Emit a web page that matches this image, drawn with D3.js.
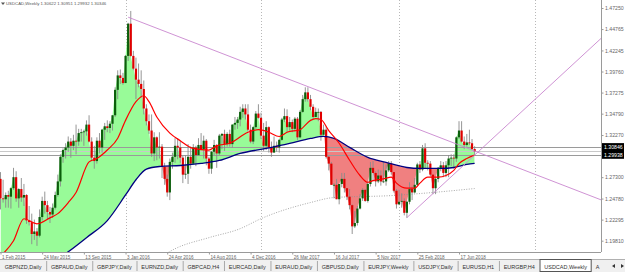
<!DOCTYPE html>
<html lang="en">
<head>
<meta charset="UTF-8">
<title>USDCAD,Weekly</title>
<script src="https://cdnjs.cloudflare.com/ajax/libs/d3/7.8.5/d3.min.js"></script>
<style>
  html, body { margin: 0; padding: 0; background: #fff; }
  svg { display: block; font-family: "Liberation Sans", Arial, sans-serif; }
</style>
</head>
<body>
<svg id="chart" width="625" height="272"></svg>
<script>
// weekly bars, first bar opens the week of 1 Feb 2015
const firstWeek = "2015-02-01";
const symbol = "USDCAD,Weekly";
const lastQuote = [1.30622, 1.30951, 1.29932, 1.30346];

// [open, high, low, close]
const bars = [
  [1.2710,1.2790,1.2350,1.2480],[1.2480,1.2700,1.2430,1.2470],[1.2470,1.2550,1.2370,1.2520],[1.2520,1.2570,1.2370,1.2500],
  [1.2500,1.2610,1.2360,1.2600],[1.2600,1.2840,1.2580,1.2730],[1.2730,1.2800,1.2440,1.2480],[1.2480,1.2600,1.2370,1.2590],
  [1.2590,1.2720,1.2440,1.2490],[1.2490,1.2650,1.2390,1.2520],[1.2520,1.2530,1.2180,1.2220],[1.2220,1.2390,1.2160,1.2200],
  [1.2200,1.2300,1.1940,1.2060],[1.2060,1.2230,1.1990,1.2090],[1.2090,1.2130,1.1920,1.2040],[1.2040,1.2350,1.2020,1.2260],
  [1.2260,1.2500,1.2220,1.2450],[1.2450,1.2560,1.2300,1.2400],[1.2400,1.2450,1.2230,1.2320],[1.2320,1.2380,1.2190,1.2290],
  [1.2290,1.2420,1.2250,1.2370],[1.2370,1.2560,1.2350,1.2520],[1.2520,1.2760,1.2500,1.2680],[1.2680,1.3000,1.2620,1.2970],
  [1.2970,1.3070,1.2900,1.3050],[1.3050,1.3130,1.2950,1.3080],[1.3080,1.3210,1.3030,1.3150],[1.3150,1.3190,1.2960,1.3100],
  [1.3100,1.3230,1.3050,1.3160],[1.3160,1.3350,1.3000,1.3150],[1.3150,1.3300,1.3100,1.3250],[1.3250,1.3300,1.3150,1.3260],
  [1.3260,1.3290,1.3100,1.3270],[1.3270,1.3400,1.3220,1.3350],[1.3350,1.3460,1.3140,1.3150],[1.3150,1.3200,1.2920,1.2960],
  [1.2960,1.3100,1.2830,1.2920],[1.2920,1.3200,1.2890,1.3160],[1.3160,1.3250,1.3010,1.3080],[1.3080,1.3300,1.3020,1.3290],
  [1.3290,1.3370,1.3170,1.3330],[1.3330,1.3400,1.3260,1.3310],[1.3310,1.3390,1.3250,1.3360],[1.3360,1.3460,1.3280,1.3460],
  [1.3460,1.3790,1.3440,1.3760],[1.3760,1.3990,1.3650,1.3930],[1.3930,1.4000,1.3830,1.3900],[1.3900,1.3960,1.3820,1.3840],
  [1.3840,1.4170,1.3840,1.4160],[1.4160,1.4550,1.4100,1.4540],[1.4540,1.4690,1.4150,1.4160],[1.4160,1.4220,1.3990,1.4010],
  [1.4010,1.4140,1.3650,1.3880],[1.3880,1.4070,1.3790,1.3830],[1.3830,1.3990,1.3670,1.3770],[1.3770,1.3870,1.3470,1.3540],
  [1.3540,1.3590,1.3340,1.3390],[1.3390,1.3470,1.3240,1.3280],[1.3280,1.3470,1.2970,1.3010],[1.3010,1.3260,1.2920,1.3200],
  [1.3200,1.3210,1.2930,1.3080],[1.3080,1.3260,1.2950,1.3090],[1.3090,1.3120,1.2720,1.2850],[1.2850,1.2900,1.2640,1.2710],
  [1.2710,1.2760,1.2500,1.2550],[1.2550,1.2950,1.2460,1.2910],[1.2910,1.3020,1.2830,1.2970],[1.2970,1.3190,1.2900,1.3100],
  [1.3100,1.3190,1.2940,1.3080],[1.3080,1.3160,1.2900,1.2960],[1.2960,1.2980,1.2660,1.2760],[1.2760,1.2990,1.2710,1.2770],
  [1.2770,1.3120,1.2650,1.2970],[1.2970,1.3090,1.2830,1.2890],[1.2890,1.3120,1.2880,1.3080],[1.3080,1.3100,1.2860,1.2990],
  [1.2990,1.3190,1.2990,1.3110],[1.3110,1.3250,1.3050,1.3060],[1.3060,1.3220,1.2950,1.3160],[1.3160,1.3180,1.2870,1.2950],
  [1.2950,1.2970,1.2770,1.2830],[1.2830,1.3040,1.2770,1.3030],[1.3030,1.3170,1.2990,1.3110],[1.3110,1.3120,1.2840,1.3010],
  [1.3010,1.3240,1.2990,1.3220],[1.3220,1.3250,1.3060,1.3240],[1.3240,1.3290,1.3040,1.3120],[1.3120,1.3260,1.3090,1.3240],
  [1.3240,1.3290,1.3090,1.3120],[1.3120,1.3350,1.3080,1.3350],[1.3350,1.3440,1.3290,1.3370],[1.3370,1.3440,1.3300,1.3410],
  [1.3410,1.3560,1.3330,1.3500],[1.3500,1.3590,1.3430,1.3540],[1.3540,1.3590,1.3410,1.3470],[1.3470,1.3590,1.3270,1.3290],
  [1.3290,1.3350,1.3130,1.3150],[1.3150,1.3330,1.3120,1.3320],[1.3320,1.3510,1.3300,1.3480],[1.3480,1.3590,1.3420,1.3430],
  [1.3430,1.3490,1.3180,1.3220],[1.3220,1.3370,1.3040,1.3100],[1.3100,1.3390,1.3050,1.3320],[1.3320,1.3330,1.3020,1.3080],
  [1.3080,1.3150,1.2970,1.3020],[1.3020,1.3210,1.3020,1.3100],[1.3100,1.3150,1.3030,1.3080],[1.3080,1.3180,1.3020,1.3170],
  [1.3170,1.3430,1.3160,1.3410],[1.3410,1.3540,1.3380,1.3450],[1.3450,1.3530,1.3260,1.3320],[1.3320,1.3440,1.3280,1.3380],
  [1.3380,1.3410,1.3260,1.3300],[1.3300,1.3440,1.3270,1.3420],[1.3420,1.3440,1.3170,1.3200],[1.3200,1.3520,1.3190,1.3500],
  [1.3500,1.3700,1.3490,1.3650],[1.3650,1.3790,1.3620,1.3730],[1.3730,1.3790,1.3620,1.3650],[1.3650,1.3700,1.3520,1.3560],
  [1.3560,1.3590,1.3410,1.3440],[1.3440,1.3550,1.3440,1.3500],[1.3500,1.3540,1.3390,1.3500],[1.3500,1.3510,1.3160,1.3230],
  [1.3230,1.3350,1.3230,1.3290],[1.3290,1.3330,1.2950,1.2970],[1.2970,1.2980,1.2810,1.2890],[1.2890,1.2910,1.2640,1.2640],
  [1.2640,1.2660,1.2480,1.2640],[1.2640,1.2710,1.2470,1.2470],[1.2470,1.2650,1.2410,1.2650],[1.2650,1.2780,1.2610,1.2710],
  [1.2710,1.2780,1.2550,1.2600],[1.2600,1.2600,1.2460,1.2500],[1.2500,1.2590,1.2350,1.2400],[1.2400,1.2410,1.2060,1.2150],
  [1.2150,1.2330,1.2130,1.2190],[1.2190,1.2390,1.2160,1.2360],[1.2360,1.2530,1.2350,1.2480],[1.2480,1.2600,1.2450,1.2580],
  [1.2580,1.2590,1.2440,1.2450],[1.2450,1.2680,1.2430,1.2650],[1.2650,1.2910,1.2620,1.2840],[1.2840,1.2920,1.2680,1.2780],
  [1.2780,1.2800,1.2620,1.2680],[1.2680,1.2820,1.2660,1.2750],[1.2750,1.2810,1.2630,1.2680],[1.2680,1.2910,1.2660,1.2680],
  [1.2680,1.2880,1.2630,1.2810],[1.2810,1.2920,1.2790,1.2890],[1.2890,1.2920,1.2760,1.2790],[1.2790,1.2790,1.2550,1.2570],
  [1.2570,1.2590,1.2360,1.2410],[1.2410,1.2580,1.2400,1.2440],[1.2440,1.2540,1.2370,1.2450],[1.2450,1.2480,1.2280,1.2310],
  [1.2310,1.2450,1.2250,1.2440],[1.2440,1.2670,1.2410,1.2590],[1.2590,1.2620,1.2460,1.2550],[1.2550,1.2720,1.2540,1.2640],
  [1.2640,1.2900,1.2620,1.2880],[1.2880,1.2920,1.2780,1.2820],[1.2820,1.3110,1.2800,1.3070],[1.3070,1.3130,1.2830,1.2900],
  [1.2900,1.2930,1.2810,1.2890],[1.2890,1.2920,1.2740,1.2760],[1.2760,1.2760,1.2530,1.2600],[1.2600,1.2730,1.2530,1.2710],
  [1.2710,1.2850,1.2670,1.2840],[1.2840,1.2920,1.2800,1.2870],[1.2870,1.2910,1.2730,1.2780],[1.2780,1.2920,1.2730,1.2870],
  [1.2870,1.2990,1.2730,1.2950],[1.2950,1.3000,1.2860,1.2960],[1.2960,1.3000,1.2830,1.2950],[1.2950,1.3210,1.2910,1.3200],
  [1.3200,1.3390,1.3180,1.3280],[1.3280,1.3390,1.3140,1.3150],[1.3150,1.3210,1.3060,1.3110],[1.3110,1.3240,1.3090,1.3140],
  [1.3140,1.3290,1.3110,1.3130],[1.3130,1.3180,1.3050,1.3060],[1.30622,1.30951,1.29932,1.30346]
];

// moving averages: [bar index, price]
const fastMA = [
  [0,1.180],[5,1.198],[9,1.224],[14,1.218],[19,1.225],[22,1.230],[26,1.243],[29,1.255],[34,1.291],[37,1.295],
  [41,1.305],[45,1.319],[48,1.340],[52,1.362],[55,1.369],[57,1.362],[60,1.344],[65,1.325],[69,1.316],[74,1.307],
  [80,1.305],[83,1.310],[88,1.313],[95,1.326],[99,1.329],[103,1.326],[107,1.321],[110,1.326],[115,1.329],[119,1.340],
  [121,1.342],[123,1.341],[126,1.328],[130,1.313],[134,1.293],[138,1.275],[141,1.267],[143,1.269],[147,1.271],[150,1.273],
  [152,1.266],[156,1.260],[159,1.260],[161,1.266],[164,1.273],[168,1.273],[171,1.275],[174,1.281],[176,1.289],[179,1.295],
  [182,1.299]
];
const slowMA = [
  [0,1.128],[8,1.146],[16,1.163],[22,1.176],[26,1.185],[33,1.2017],[41,1.2218],[48,1.2520],[52,1.2700],[56,1.2825],
  [61,1.2856],[69,1.2868],[77,1.2892],[84,1.2927],[92,1.3010],[102,1.3069],[111,1.3128],[119,1.3187],[124,1.3211],[128,1.3187],
  [134,1.3081],[141,1.2963],[148,1.2904],[156,1.2844],[161,1.2833],[169,1.2833],[174,1.2844],[179,1.2880],[182,1.2892]
];
const longMA = [
  [62,1.180],[67,1.1886],[80,1.2017],[92,1.2123],[100,1.2241],[119,1.2431],[128,1.2490],[150,1.2513],[161,1.2537],[182,1.2596]
];

const trendLines = [
  [["2016-01-10", 1.4617], ["2019-07-07", 1.2457]],
  [["2018-01-28", 1.2253], ["2019-07-07", 1.4380]]
];

const priceTicks = [1.47250, 1.44765, 1.42245, 1.39760, 1.37275, 1.34790, 1.32270, 1.27300, 1.24780, 1.22295, 1.19810];
const levelLines = [1.30846, 1.29938];
const bidLine = 1.30346;
const dateTicks = ["2015-02-01","2015-05-24","2015-09-13","2016-01-03","2016-04-24","2016-08-14",
                   "2016-12-04","2017-03-26","2017-07-16","2017-11-05","2018-02-25","2018-06-17"];
const separators = ["2016-01-03","2017-01-01","2018-01-07","2019-01-06"];
const tabs = ["GBPNZD,Daily","GBPAUD,Daily","GBPJPY,Daily","EURNZD,Daily","GBPCAD,H4","EURCAD,Daily","EURAUD,Daily",
              "GBPUSD,Daily","EURJPY,Weekly","USDJPY,Daily","EURUSD,H1","EURGBP,H4","USDCAD,Weekly"];

const width = 625, height = 272;
const plot = { right: 601, bottom: 252 };

const parse = d3.utcParse("%Y-%m-%d");
const start = parse(firstWeek);
const weekDate = w => d3.utcDay.offset(start, w * 7);

const x = d3.scaleUtc()
  .domain([parse("2015-02-01"), parse("2018-06-17")])
  .range([0.5, 459]);
const y = d3.scaleLinear()
  .domain([1.19810, 1.47250])
  .range([240.7, 8]);

const svg = d3.select("#chart");
const defs = svg.append("defs");
defs.append("clipPath").attr("id", "plotClip")
  .append("rect").attr("x", 0).attr("y", 0).attr("width", plot.right).attr("height", plot.bottom);

const barX = (d, i) => x(weekDate(i));
const maX = d => x(weekDate(d[0]));

// clip regions on either side of the slow average
const slowArea = edge => d3.area().x(maX).y0(edge).y1(d => y(d[1])).curve(d3.curveMonotoneX);
defs.append("clipPath").attr("id", "aboveSlow").append("path").attr("d", slowArea(-20)(slowMA));
defs.append("clipPath").attr("id", "belowSlow").append("path").attr("d", slowArea(300)(slowMA));

const plotG = svg.append("g").attr("clip-path", "url(#plotClip)");

// yearly period separators
plotG.selectAll(".sep").data(separators).join("line")
  .attr("x1", d => Math.round(x(parse(d))) + 0.5).attr("x2", d => Math.round(x(parse(d))) + 0.5)
  .attr("y1", 0).attr("y2", plot.bottom)
  .attr("stroke", "#b8b8b8").attr("stroke-dasharray", "1,2");

// fill between close and slow average
const closeArea = edge => d3.area().x(barX).y0(edge).y1(d => y(d[3]));
plotG.append("g").attr("clip-path", "url(#aboveSlow)")
  .append("path").attr("d", closeArea(300)(bars)).attr("fill", "#98fb98");
plotG.append("g").attr("clip-path", "url(#belowSlow)")
  .append("path").attr("d", closeArea(-20)(bars)).attr("fill", "#f08080");

// horizontal price levels
plotG.selectAll(".lvl").data(levelLines).join("line")
  .attr("x1", 0).attr("x2", plot.right)
  .attr("y1", d => Math.round(y(d)) + 0.5).attr("y2", d => Math.round(y(d)) + 0.5)
  .attr("stroke", "#9a9a9a");
plotG.append("line")
  .attr("x1", 0).attr("x2", plot.right)
  .attr("y1", Math.round(y(bidLine)) + 0.5).attr("y2", Math.round(y(bidLine)) + 0.5)
  .attr("stroke", "#c8c8c8");

// long average, dotted
const maLine = d3.line().x(maX).y(d => y(d[1])).curve(d3.curveMonotoneX);
plotG.append("path").attr("d", maLine(longMA))
  .attr("fill", "none").attr("stroke", "#909090").attr("stroke-width", 0.8).attr("stroke-dasharray", "1,1.5");

// candles
const candle = plotG.append("g").selectAll("g").data(bars).join("g")
  .attr("transform", (d, i) => `translate(${barX(d, i)},0)`);
candle.append("line")
  .attr("x1", 0).attr("x2", 0)
  .attr("y1", d => y(d[1])).attr("y2", d => y(d[2]))
  .attr("stroke", "#8a8a8a").attr("stroke-width", 0.9);
candle.append("rect")
  .attr("x", -1.1).attr("width", 2.2)
  .attr("y", d => y(Math.max(d[0], d[3])))
  .attr("height", d => Math.max(0.8, Math.abs(y(d[0]) - y(d[3]))))
  .attr("fill", d => d[3] >= d[0] ? "#0b5e0b" : "#e00000");

// averages
plotG.append("path").attr("d", maLine(slowMA))
  .attr("fill", "none").attr("stroke", "#000080").attr("stroke-width", 1.3);
plotG.append("path").attr("d", maLine(fastMA))
  .attr("fill", "none").attr("stroke", "#ff0000").attr("stroke-width", 1.2);

// trend lines
plotG.selectAll(".trend").data(trendLines).join("line")
  .attr("x1", d => x(parse(d[0][0]))).attr("y1", d => y(d[0][1]))
  .attr("x2", d => x(parse(d[1][0]))).attr("y2", d => y(d[1][1]))
  .attr("stroke", "#c987cf").attr("stroke-width", 0.9);

// frame
svg.append("line").attr("x1", plot.right + 0.5).attr("x2", plot.right + 0.5)
  .attr("y1", 0).attr("y2", plot.bottom).attr("stroke", "#9a9a9a");
svg.append("line").attr("x1", 0).attr("x2", plot.right)
  .attr("y1", plot.bottom + 0.5).attr("y2", plot.bottom + 0.5).attr("stroke", "#9a9a9a");

// price axis
const yAxis = d3.axisRight(y).tickValues(priceTicks).tickFormat(d3.format(".5f")).tickSize(2).tickPadding(1.5);
const yg = svg.append("g").attr("transform", `translate(${plot.right + 0.5},0)`).call(yAxis);
yg.select(".domain").remove();
yg.selectAll("line").attr("stroke", "#9a9a9a");
yg.selectAll("text").attr("font-size", 5.2).attr("fill", "#666").attr("font-family", "Liberation Sans, Arial, sans-serif");

// price labels on the axis
const tags = svg.append("g").selectAll("g").data(levelLines).join("g")
  .attr("transform", d => `translate(${plot.right + 1},${y(d)})`);
tags.append("rect").attr("x", 0).attr("y", -4).attr("width", 22).attr("height", 8).attr("fill", "#000");
tags.append("text").attr("x", 2).attr("y", 2).attr("font-size", 5.2).attr("fill", "#fff")
  .text(d => d3.format(".5f")(d));

// date axis
const xAxis = d3.axisBottom(x).tickValues(dateTicks.map(parse))
  .tickFormat(d3.utcFormat("%-d %b %Y")).tickSize(2).tickPadding(1);
const xg = svg.append("g").attr("transform", `translate(0,${plot.bottom + 0.5})`).call(xAxis);
xg.select(".domain").remove();
xg.selectAll("line").attr("stroke", "#9a9a9a");
xg.selectAll("text").attr("font-size", 4.6).attr("fill", "#666").attr("text-anchor", "start").attr("dx", 1)
  .attr("font-family", "Liberation Sans, Arial, sans-serif");

// header
svg.append("path").attr("d", "M1,2.5 L5,2.5 L3,5 Z").attr("fill", "#555");
svg.append("text").attr("x", 6).attr("y", 5.4).attr("font-size", 4.3).attr("fill", "#555")
  .text(`${symbol}  ${lastQuote.map(d3.format(".5f")).join(" ")}`);

// tab bar
const tabTop = 259;
svg.append("rect").attr("x", 0).attr("y", tabTop).attr("width", width).attr("height", height - tabTop).attr("fill", "#f0f0f0");
svg.append("line").attr("x1", 0).attr("x2", width).attr("y1", tabTop + 0.5).attr("y2", tabTop + 0.5).attr("stroke", "#b0b0b0");
const tabG = svg.append("g");
let tx = 0;
tabs.forEach((name, i) => {
  const t = tabG.append("text").attr("y", 268.5).attr("font-size", 5.5).attr("fill", "#333").text(name);
  const w = t.node().getComputedTextLength() + 9.5;
  const active = i === tabs.length - 1;
  if (active) {
    tabG.insert("rect", "text").attr("x", tx + 0.5).attr("y", tabTop + 0.5).attr("width", w - 1).attr("height", 12)
      .attr("fill", "#fff").attr("stroke", "#555");
  } else {
    tabG.append("line").attr("x1", tx + w + 0.5).attr("x2", tx + w + 0.5).attr("y1", 261).attr("y2", 271)
      .attr("stroke", "#a8a8a8");
  }
  t.attr("x", tx + w / 2).attr("text-anchor", "middle");
  tx += w;
});
svg.append("text").attr("x", tx + 4).attr("y", 268.5).attr("font-size", 5.5).attr("fill", "#333").text("A");
svg.append("path").attr("d", "M612,266 L615,264 L615,268 Z").attr("fill", "#333");
svg.append("path").attr("d", "M624,266 L621,264 L621,268 Z").attr("fill", "#333");
</script>
</body>
</html>
